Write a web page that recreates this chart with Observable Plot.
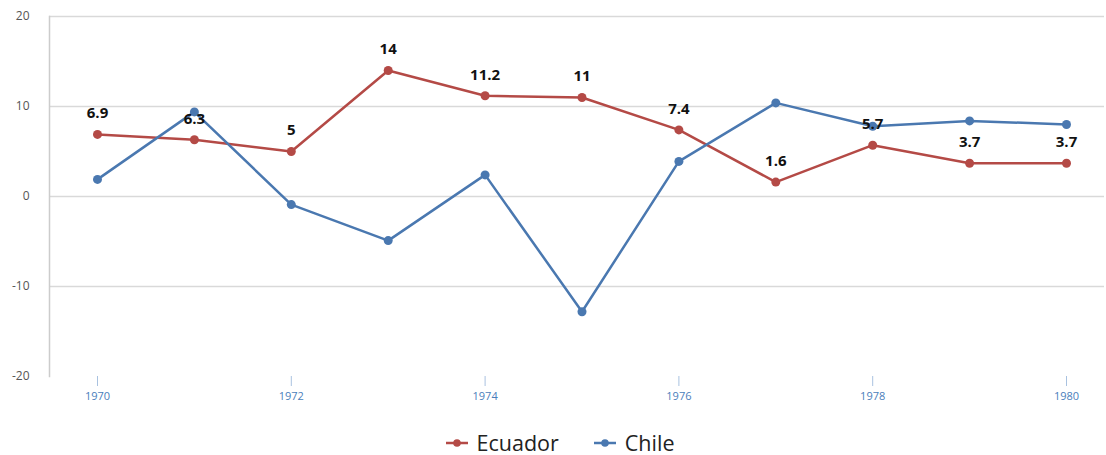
<!DOCTYPE html>
<html><head><meta charset="utf-8">
<script src="https://cdn.jsdelivr.net/npm/d3@7"></script>
<script src="https://cdn.jsdelivr.net/npm/@observablehq/plot@0.6"></script>
<style>
body{margin:0;background:#fff;font-family:"Open Sans",sans-serif;overflow:hidden}
#legend{display:flex;justify-content:center;gap:35px;font-size:21.5px;line-height:22px;color:#222;margin-top:20px;margin-left:14px}
.item{display:flex;align-items:center;gap:9px}
.item span{display:block;height:22px;line-height:22px}
</style></head><body>
<div id="chart"></div>
<div id="legend"></div>
<script>
const years = [1970,1971,1972,1973,1974,1975,1976,1977,1978,1979,1980];
const ecuador = [6.9,6.3,5,14,11.2,11,7.4,1.6,5.7,3.7,3.7];
const chile = [1.9,9.4,-0.9,-4.9,2.4,-12.8,3.9,10.4,7.8,8.4,8.0];
const seriesNames = ["Ecuador","Chile"];
const colors = ["#b44a46","#4a78b0"];
const yTicks = [-20,-10,0,10,20];
const xTicks = [1970,1972,1974,1976,1978,1980];

const data = [];
years.forEach((y,i)=>{data.push({year:y,value:ecuador[i],series:"Ecuador"});data.push({year:y,value:chile[i],series:"Chile"});});
const ec = data.filter(d=>d.series==="Ecuador");

const chart = Plot.plot({
  width:1106, height:412,
  marginLeft:49, marginRight:2, marginTop:16, marginBottom:36,
  style:{fontFamily:"Open Sans, sans-serif", background:"#fff"},
  x:{domain:[1970,1980], insetLeft:48, insetRight:38},
  y:{domain:[-20,20]},
  color:{domain:seriesNames, range:colors},
  marks:[
    Plot.ruleY(yTicks.filter(t=>t>-20), {stroke:"#d9d9d9", strokeWidth:1.3}),
    Plot.frame({anchor:"left", stroke:"#cccccc", strokeWidth:1.5}),
    Plot.axisY(yTicks, {tickSize:0, tickPadding:20, fontSize:12, fill:"#555", label:null, tickFormat:d=>String(d)}),
    Plot.axisX(xTicks, {tickFormat:d=>String(d), tickSize:10, tickPadding:6, stroke:"#a9c2e0", fill:"#4a7ebb", fontSize:11, label:null}),
    Plot.line(data, {x:"year", y:"value", stroke:"series", strokeWidth:2.5}),
    Plot.dot(data, {x:"year", y:"value", fill:"series", r:4.5}),
    Plot.text(ec, {x:"year", y:"value", text:d=>String(d.value), dy:-21, fontSize:15, fontWeight:"bold", fill:"#111"})
  ]
});
document.getElementById("chart").appendChild(chart);

const leg = document.getElementById("legend");
seriesNames.forEach((n,i)=>{
  const it=document.createElement("div");it.className="item";
  it.innerHTML=`<svg width="22" height="10"><line x1="0" x2="22" y1="5" y2="5" stroke="${colors[i]}" stroke-width="2.5"/><circle cx="11" cy="5" r="3.8" fill="${colors[i]}"/></svg><span>${n}</span>`;
  leg.appendChild(it);
});
</script></body></html>
